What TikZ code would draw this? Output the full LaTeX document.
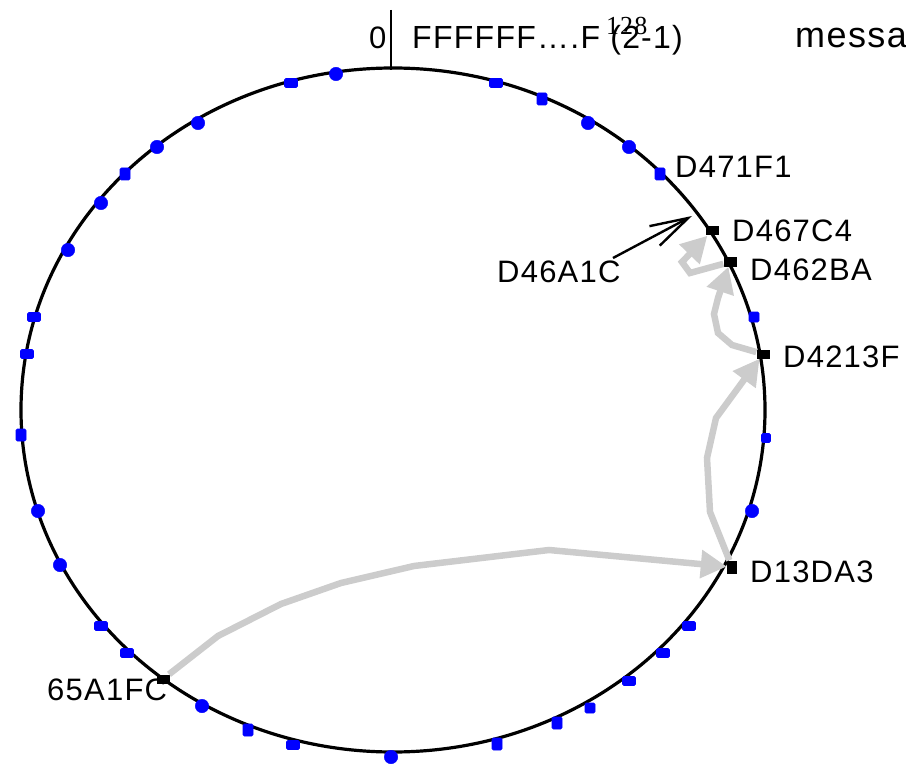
\documentclass[tikz,border=0pt]{standalone}
\usepackage{fontspec}
\setmainfont{Liberation Sans}[LetterSpace=4]
\newfontfamily\serifnum{Liberation Serif}[LetterSpace=4]
\usetikzlibrary{arrows.meta}
\begin{document}
\begin{tikzpicture}[x=1pt,y=-1pt,
  bsq/.style={rectangle,fill=blue,draw=blue,line width=0.8pt,rounded corners=1.5pt,minimum width=13pt,minimum height=9pt,inner sep=0pt},
  bsqv/.style={bsq,minimum width=10pt,minimum height=12pt},
  bdot/.style={circle,fill=blue,draw=blue,minimum size=13.5pt,inner sep=0pt},
  kmark/.style={rectangle,fill=black,minimum width=13pt,minimum height=9pt,inner sep=0pt},
  lab/.style={anchor=base west,inner sep=0pt,font=\fontsize{31}{37}\selectfont},
  hop/.style={draw=black!20,line width=6.5pt,-{Triangle[length=26pt,width=27pt]}},
]
\useasboundingbox (0,0) rectangle (906,765);
\clip (0,0) rectangle (906,765);

% ring
\draw[line width=3.2pt] (393,410) ellipse [x radius=372pt, y radius=342pt];
\draw[line width=2.8pt] (391,10) -- (391,70);

% blue markers
\foreach \px/\py in {291/83,496/83,34/317,27/354,127/653,101/626,689/626,663/653,629/681,293/745}
  \node[bsq] at (\px,\py) {};
\foreach \px/\py in {542/99,660/174,125/174,21/435,497/744,557/723,248/730}
  \node[bsqv] at (\px,\py) {};
\node[bsq,minimum width=10pt,minimum height=10pt] at (754,317) {};
\node[bsq,minimum width=9pt,minimum height=9pt] at (766,438) {};
\node[bsq,minimum width=10pt,minimum height=10pt] at (590,708) {};
\foreach \px/\py in {336/74,588/123,629/147,752/511,391/757,202/706,60/565,38/511,68/250,101/203,157/147,198/123}
  \node[bdot] at (\px,\py) {};

% black markers
\node[kmark] (m67) at (712,231) {};
\node[kmark] (m62) at (730,262) {};
\node[kmark] (m42) at (763,354) {};
\node[kmark,minimum width=10pt,minimum height=13pt] (m13) at (732,567) {};
\node[kmark] (m65) at (163,679) {};

% labels
\node[lab] (t0) at (369,49) {0};
\node[lab,font=\fontsize{32}{38}\selectfont] (tf) at (412,49) {FFFFFF….F (2\kern1pt-1)};
\node[anchor=base west,inner sep=0pt,font=\serifnum\fontsize{26}{28}\selectfont] (texp) at (606,35) {128};
\node[lab,font=\fontsize{36}{40}\selectfont] (tmsg) at (795,48) {messa};
\node[lab] (l71) at (675,178) {D471F1};
\node[lab] (l67) at (732,242) {D467C4};
\node[lab] (l62) at (750,280) {D462BA};
\node[lab] (l42) at (783,367) {D4213F};
\node[lab] (l13) at (750,582) {D13DA3};
\node[lab] (l65) at (47,700) {65A1FC};
\node[lab] (l46) at (497,282) {D46A1C};

% pointer to D46A1C position
\coordinate (s46) at (613,258);
\coordinate (p46) at (692,216);
\draw[line width=2.4pt,-{Straight Barb[length=38pt,width=22pt]}] (s46) -- (p46);

% lookup hops
\draw[hop] (m65) -- (218,636) -- (281,604) -- (341,583) -- (414,566) -- (549,550) -- (m13);
\draw[hop] (m13) -- (710,512) -- (707,458) -- (716,418) -- (m42);
\draw[hop] (m42) -- (732,345) -- (718,333) -- (714,314) -- (718,298) -- (m62);
\draw[hop] (m62) -- (690,273) -- (682,262) -- (m67);
\end{tikzpicture}
\end{document}
